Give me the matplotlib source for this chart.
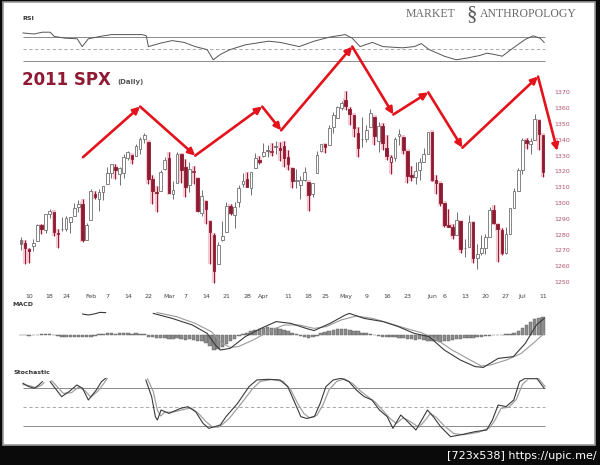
import numpy as np
import matplotlib
matplotlib.use('Agg')
import matplotlib.pyplot as plt
from matplotlib.patches import Rectangle

W, H = 600, 465

# daily SPX candles, 6 Jan 2011 .. 11 Jul 2011 (index = trading day)
opens = [
  1276.3, 1274.4, 1270.8, 1272.6, 1275.7, 1285.8, 1282.9, 1293.2, 1294.5, 1280.9, 1283.6, 1283.3, 1288.2, 1292.0, 1297.5, 1299.6, 1276.5,
  1289.1, 1305.9, 1302.8, 1307.0, 1311.9, 1318.8, 1322.5, 1318.1, 1318.7, 1328.7, 1330.4, 1329.5, 1334.4, 1340.4, 1338.9, 1315.4, 1307.1, 1307.3, 1321.6,
  1328.6, 1305.5, 1312.4, 1330.7, 1322.7, 1311.1, 1319.9, 1315.7, 1293.4, 1301.2, 1288.5, 1279.5, 1261.6, 1276.7, 1281.7, 1298.3, 1292.2, 1300.6, 1311.8, 1315.5, 1309.4, 1321.9, 1327.4,
  1329.5, 1333.6, 1332.0, 1335.9, 1334.8, 1336.2, 1329.0, 1322.0, 1314.0, 1311.1, 1314.5, 1313.4, 1306.0, 1319.1, 1333.2, 1337.1, 1336.8, 1348.4, 1353.9, 1360.1,
  1365.2, 1359.8, 1355.9, 1344.2, 1340.2, 1340.2, 1348.3, 1354.5, 1339.4, 1348.7, 1334.8, 1326.1, 1328.5, 1342.4, 1342.0, 1333.1, 1317.7, 1316.4, 1320.6, 1325.7, 1331.1,
  1345.2, 1314.6, 1312.9, 1300.3, 1286.3, 1284.6, 1279.6, 1288.3, 1271.3, 1272.2, 1287.9, 1265.5, 1268.6, 1271.5, 1278.4, 1295.5, 1286.6, 1283.0, 1268.4, 1280.2, 1296.9, 1307.6,
  1320.6, 1339.6, 1337.6, 1339.6, 1352.4, 1343.3]
highs = [
  1278.2, 1276.8, 1271.5, 1277.3, 1286.9, 1286.7, 1293.2, 1296.1, 1294.6, 1283.4, 1291.2, 1291.9, 1291.3, 1299.7, 1301.6, 1302.7, 1287.2,
  1308.9, 1307.6, 1308.6, 1311.0, 1322.9, 1324.9, 1324.5, 1322.8, 1330.8, 1333.0, 1330.4, 1337.6, 1341.5, 1344.1, 1338.9, 1317.9, 1310.9, 1320.6, 1329.4,
  1332.1, 1314.2, 1332.3, 1331.1, 1327.7, 1325.7, 1323.2, 1315.7, 1308.4, 1301.2, 1288.5, 1280.9, 1275.2, 1288.9, 1300.6, 1299.4, 1300.5, 1311.3, 1319.2, 1319.7, 1319.5, 1331.7, 1329.8,
  1337.9, 1336.7, 1338.2, 1339.4, 1338.8, 1339.5, 1333.8, 1322.0, 1321.4, 1316.8, 1322.9, 1313.4, 1312.7, 1332.7, 1337.5, 1337.6, 1349.6, 1357.5, 1361.7, 1364.6,
  1370.6, 1360.8, 1355.9, 1348.0, 1354.4, 1349.4, 1359.4, 1354.5, 1351.1, 1350.5, 1343.3, 1330.4, 1341.8, 1346.8, 1342.0, 1333.1, 1323.7, 1325.9, 1328.5, 1334.6, 1345.2,
  1345.2, 1318.0, 1312.9, 1300.3, 1296.2, 1287.0, 1294.5, 1288.3, 1277.0, 1292.5, 1287.9, 1274.1, 1279.8, 1280.4, 1297.6, 1298.6, 1286.6, 1283.9, 1284.9, 1296.8, 1309.2, 1322.0,
  1341.0, 1340.9, 1340.9, 1356.5, 1352.4, 1343.3]
lows = [
  1270.4, 1261.7, 1262.2, 1269.6, 1275.7, 1280.5, 1281.2, 1290.2, 1278.9, 1271.3, 1282.1, 1282.5, 1281.1, 1292.0, 1294.4, 1275.1, 1276.5,
  1289.1, 1302.6, 1294.8, 1301.7, 1311.9, 1316.0, 1314.9, 1311.7, 1316.1, 1326.9, 1324.6, 1329.5, 1331.0, 1338.1, 1312.3, 1299.6, 1294.3, 1307.3, 1320.6,
  1306.1, 1302.6, 1312.4, 1312.6, 1304.0, 1306.9, 1312.3, 1294.2, 1292.0, 1286.4, 1261.1, 1249.1, 1261.6, 1276.2, 1281.7, 1292.7, 1284.1, 1297.7, 1310.2, 1310.2, 1305.3, 1321.9, 1325.0,
  1328.9, 1329.1, 1330.0, 1331.1, 1326.6, 1322.9, 1321.1, 1309.5, 1309.2, 1302.4, 1313.7, 1294.7, 1304.0, 1319.1, 1332.2, 1331.5, 1336.8, 1344.3, 1353.6, 1358.7,
  1358.6, 1349.5, 1341.5, 1329.2, 1335.6, 1338.6, 1348.3, 1336.4, 1332.0, 1333.4, 1327.3, 1318.5, 1326.6, 1336.4, 1330.7, 1312.9, 1313.9, 1311.8, 1314.4, 1325.7, 1331.1,
  1313.7, 1305.6, 1297.9, 1284.7, 1284.7, 1277.4, 1279.6, 1268.2, 1265.6, 1272.2, 1261.9, 1258.1, 1267.4, 1267.6, 1278.4, 1286.8, 1262.9, 1267.2, 1267.5, 1280.2, 1296.9, 1307.6,
  1318.2, 1334.3, 1330.9, 1339.6, 1333.7, 1316.4]
closes = [
  1273.9, 1271.5, 1269.8, 1274.5, 1286.0, 1283.8, 1293.2, 1295.0, 1281.9, 1280.3, 1283.4, 1290.8, 1291.2, 1296.6, 1299.5, 1276.3, 1286.1,
  1307.6, 1304.0, 1307.1, 1310.9, 1319.1, 1324.6, 1320.9, 1321.9, 1329.2, 1332.3, 1328.0, 1336.3, 1340.4, 1343.0, 1315.4, 1307.4, 1306.1, 1319.9, 1327.2,
  1306.3, 1308.4, 1331.0, 1321.2, 1310.1, 1321.8, 1320.0, 1295.1, 1304.3, 1296.4, 1281.9, 1256.9, 1273.7, 1279.2, 1298.4, 1293.8, 1297.5, 1309.7, 1313.8, 1310.2, 1319.4, 1328.3, 1325.8,
  1332.4, 1332.9, 1332.6, 1335.5, 1333.5, 1328.2, 1324.5, 1314.2, 1314.4, 1314.5, 1319.7, 1305.1, 1312.6, 1330.4, 1337.4, 1335.3, 1347.2, 1355.7, 1360.5, 1363.6,
  1361.2, 1356.6, 1347.3, 1335.1, 1340.2, 1346.3, 1357.2, 1342.1, 1348.7, 1337.8, 1329.5, 1329.0, 1340.7, 1343.6, 1333.3, 1317.4, 1316.3, 1320.5, 1325.7, 1331.1, 1345.2,
  1314.6, 1312.9, 1300.2, 1286.2, 1284.9, 1279.6, 1289.0, 1271.0, 1271.8, 1287.9, 1265.4, 1267.6, 1271.5, 1278.4, 1295.5, 1287.1, 1283.5, 1268.5, 1280.1, 1296.7, 1307.4, 1320.6,
  1339.7, 1337.9, 1339.2, 1353.2, 1343.8, 1319.5]

tick_pos = [2, 7, 11, 17, 21, 26, 31, 36, 40, 45, 50, 55, 59, 65, 70, 74, 79, 84, 89, 94, 100, 103, 108, 113, 118, 122, 127]
tick_lab = ['10', '18', '24', 'Feb', '7', '14', '22', 'Mar', '7', '14', '21', '28', 'Apr', '11',
            '18', '25', 'May', '9', '16', '23', 'Jun', '6', '13', '20', '27', 'Jul', '11']
price_ticks = [1250, 1260, 1270, 1280, 1290, 1300, 1310, 1320, 1330, 1340, 1350, 1360, 1370]

# RSI(14)
rsi_x = [0.5, 3.2, 5.2, 7.1, 8.1, 10.8, 13.7, 14.9, 16.4, 19.3, 22, 25.4, 29.5, 30.5, 31, 34.1, 36.8, 39.7,
         42.4, 45.3, 46.8, 48.5, 50.9, 54.6, 60.2, 63.1, 67.7, 71.3, 75.2, 78.9, 80.6, 82.5, 85.5, 88.1,
         92.8, 95.7, 97.4, 99.3, 103, 105.9, 108.6, 111.5, 113.4, 115.1, 117.1, 119.8, 122.7, 124.6, 126.3, 127.3]
rsi_v = [76.7, 75, 78, 78, 71, 68, 67, 54, 67, 71, 74, 74, 74, 72, 54, 60, 64, 61,
         54, 49, 32, 41, 49, 57, 63, 61, 54, 63, 70, 74, 68, 54, 61, 54,
         52, 54, 59, 49, 38, 32, 35, 39, 43, 41, 38, 52, 66, 72, 68, 61]

# MACD panel (None = off the top of the panel)
macd_x = [15, 16.4, 17.8, 19.2, 20.6, 21.5,
          32.2, 36.8, 41.7, 45.3, 47.3, 48.5, 50.9, 54.6, 58.4, 62.1, 65.7, 69.4, 71.3, 75.2, 78.9, 79.9,
          83.5, 88.1, 91.8, 95.7, 99.3, 103, 106.9, 110.5, 112.5, 116.1, 119.8, 122.7, 125.4, 127.3]
macd_v = [10.5, 10.0, 10.5, 11.3, 11.2, None,
          10.8, 8.3, 5.0, 0.8, -5.0, -7.5, -6.7, -0.8, 3.3, 6.7, 5.8, 3.3, 2.2, 5.8, 10.0, 10.8,
          8.3, 6.7, 4.2, 0.8, -0.8, -7.5, -12.5, -15.8, -16.2, -11.7, -10.8, -4.2, 5.0, 8.3]
signal_x = [33.1, 37.8, 42.4, 46.3, 49, 50.9, 52.9, 56.5, 60.2, 64, 67.7, 71.3, 74.3, 77.9, 81.6,
            85.5, 89.1, 93.7, 97.4, 101.3, 104.9, 108.6, 112, 114.2, 118.1, 121.7, 124.6, 127.3]
signal_v = [11.2, 9.2, 5.8, 1.7, -4.2, -6.2, -5.8, -2.5, 1.7, 5.0, 5.0, 3.3, 4.2, 7.5, 9.5,
            8.3, 6.2, 3.3, 1.2, -2.5, -7.5, -11.7, -15.5, -15.0, -12.5, -9.2, -4.2, 0.8]
hist = [-0.2, -0.2, -0.3, -0.2, -0.1, 0.3, 0.4, 0.3, 0.1,
        -0.5, -0.8, -1.0, -1.1, -1.0, -0.9, -1.2, -1.0, -0.8, -0.5,
        0.3, 0.6, 0.8, 0.8, 0.7, 0.8, 0.9, 0.8, 0.7, 0.8, 0.6, 0.5,
        -0.8, -1.2, -1.5, -1.6, -1.4, -1.8, -1.9, -1.6, -2.0, -2.3, -2.2, -2.6, -3.0, -3.2,
        -4.0, -5.5, -7.5, -6.8, -6.0, -4.5, -3.2, -1.8, -0.6,
        0.6, 1.2, 1.8, 2.4, 3.0, 3.4, 3.8, 3.6, 3.4, 3.0, 2.6, 2.0, 1.2, 0.4,
        -0.6, -1.2, -1.5, -1.2, -0.6, 0.8, 1.5, 2.2, 2.6, 3.0, 3.0, 2.8, 2.6, 2.2, 1.8,
        1.2, 0.8, 0.4, 0.0, -0.5, -0.8, -1.0, -1.0, -1.2, -1.4,
        -1.6, -2.0, -2.2, -2.4, -2.2, -2.5, -2.8, -3.0, -3.2, -3.4, -3.2,
        -2.8, -2.4, -2.0, -1.8, -1.6, -1.5, -1.3, -1.0, -0.8, -0.5,
        -0.3, -0.2, -0.2, 0.0, 0.4, 0.6, 0.8, 2.0, 3.5, 5.0, 6.5, 7.8, 8.6, 9.0]

# slow stochastics (None = above the panel)
stk_x = [0.5, 1.9, 3.3, 4.3, 5.2, 6.0,
         7.1, 9.9, 11.7, 13.6, 15.0, 16.4, 18.3, 19.6, 20.6, 21.0,
         30.4, 31.8, 32.7, 33.2, 34.1, 36, 38.8, 40.6, 42.5, 44.3, 45.7, 47.2, 48.5, 49.9, 52.7, 55.5,
         57.4, 60.2, 63, 64.9, 66.7, 68.1, 69.5, 71.4, 72.8, 74.2, 76, 77.9, 79.8, 81.6, 83.5, 85.4,
         87.2, 89.1, 90.5, 92.4, 93.7, 96.1, 97.5, 98.9, 100.3, 102.1, 104.5, 106.8, 110.5, 113.3,
         114.7, 116.1, 118, 119.9, 121.3, 122.7, 125.5, 127.3]
stk_v = [88, 82.7, 80, 85, 90.6, None,
         90.6, 66.7, 74.7, 85.3, 80, 61.4, 77, 90.6, 96, None,
         93, 66.7, 34.9, 29.5, 45.5, 40, 48, 50.8, 42.8, 24.2, 16.3, 19, 21.6, 34.9, 56, 82.7,
         93.3, 94.3, 93.3, 82.7, 56, 34.9, 32, 34.9, 56, 82.7, 93.3, 96, 90.6, 77.3, 66.7, 61.4,
         45.5, 34.9, 16.3, 37.5, 29.5, 13.6, 29.5, 45.5, 34.9, 19, 3, 5.7, 11, 13.6,
         29.5, 53.4, 50.8, 61.4, 90.6, 96, 96, 80]
std_x = [0.5, 2.2, 3.6, 5.0, 5.6, 6.2,
         7.5, 10.3, 12.3, 14.0, 15.6, 17.0, 18.8, 20.2, 21.0, 21.4,
         30.8, 32.2, 33.2, 34.0, 35.0, 36.8, 39.5, 41.3, 43.2, 45.0, 46.5, 48.0, 49.3, 50.8, 53.5, 56.2,
         58.2, 61.0, 63.8, 65.6, 67.4, 68.8, 70.2, 72.0, 73.5, 75.0, 76.8, 78.7, 80.6, 82.4, 84.3, 86.2,
         88.0, 89.8, 91.3, 93.0, 94.5, 96.8, 98.2, 99.6, 101.0, 103.0, 105.3, 107.6, 111.3, 114.0,
         115.4, 116.8, 118.7, 120.5, 122.0, 123.4, 126.0, 127.5]
std_v = [86, 84, 81, 85, 89, None,
         92, 72, 73, 82, 76, 66, 76, 88, 96, None,
         95, 75, 45, 36, 42, 42, 46, 49, 40, 27, 19, 18, 24, 33, 55, 78,
         91, 94, 91, 78, 55, 40, 33, 37, 54, 78, 91, 95, 88, 77, 67, 58,
         45, 32, 24, 33, 28, 18, 28, 40, 34, 20, 8, 6, 10, 17,
         30, 48, 50, 62, 86, 95, 95, 83]

# red zig-zag arrows drawn over the price panel (trading day, price)
arrow_x = [15.1, 29.0, 42.4, 58.7, 63.3, 80.6, 90.6, 99.1, 107.4, 125.8, 130.5]
arrow_y = [1329, 1361, 1330, 1361, 1346, 1399, 1356, 1370, 1335, 1380, 1333]

XLIM = (-1.2, 129.2)
RED = '#8e1b32'
GREY = '#707070'


def add_ax(y0, y1, x0=16, x1=552):
    a = fig.add_axes([x0 / W, 1 - y1 / H, (x1 - x0) / W, (y1 - y0) / H])
    a.set_xlim(*XLIM)
    a.patch.set_visible(False)
    for s in a.spines.values():
        s.set_visible(False)
    a.set_xticks([])
    a.set_yticks([])
    return a


fig = plt.figure(figsize=(W / 100, H / 100), dpi=100, facecolor='#0a0a0a')
fig.add_artist(Rectangle((3 / W, 1 - 445 / H), 592 / W, 443 / H, transform=fig.transFigure,
                         facecolor='white', edgecolor='#9a9a9a', lw=1.2, zorder=-5))

# ---- RSI ----
ax_rsi = add_ax(28, 66)
ax_rsi.set_ylim(21.67, 85)
ax_rsi.hlines([70, 30], 0.5, 127.5, color='#8a8a8a', lw=0.7)
ax_rsi.hlines(50, 0.5, 127.5, color='#9a9a9a', lw=0.6, linestyles=(0, (4, 3)))
ax_rsi.plot(rsi_x, rsi_v, color='#555555', lw=0.7)
fig.text(22 / W, 1 - 19 / H, 'RSI', fontsize=4.5, fontweight='bold', color='#333333', va='center')

# ---- price ----
ax = add_ax(86, 290)
ax.set_ylim(1244.94, 1374.05)
for i in range(len(closes)):
    o, h, l, c = opens[i], highs[i], lows[i], closes[i]
    col = RED if (i > 0 and c < closes[i - 1]) else GREY
    if col == RED:
        ax.vlines(i, l, h, color='#f4c9d2', lw=3.0, zorder=1)
        ax.add_patch(Rectangle((i - 0.55, min(o, c) - 1), 1.1, abs(c - o) + 2,
                               facecolor='#f4c9d2', edgecolor='none', zorder=1))
    ax.vlines(i, l, h, color=col, lw=0.7, zorder=2)
    face = 'white' if c >= o else col
    ax.add_patch(Rectangle((i - 0.32, min(o, c)), 0.64, max(abs(c - o), 0.3),
                           facecolor=face, edgecolor=col, lw=0.6, zorder=3))

ax.yaxis.tick_right()
ax.set_yticks(price_ticks)
ax.set_yticklabels([str(p) for p in price_ticks])
ax.tick_params(axis='y', length=0, pad=2, labelsize=4.5, labelcolor='#b0506a')
ax.set_xticks(tick_pos)
ax.set_xticklabels(tick_lab)
ax.tick_params(axis='x', length=0, pad=3, labelsize=4.5, labelcolor='#444444')

for k in range(len(arrow_x) - 1):
    ax.annotate('', xy=(arrow_x[k + 1], arrow_y[k + 1]), xytext=(arrow_x[k], arrow_y[k]),
                arrowprops=dict(arrowstyle='-|>', color='#e3121b', lw=1.9, mutation_scale=10,
                                shrinkA=0, shrinkB=0),
                annotation_clip=False, zorder=10)

fig.text(22 / W, 1 - 80 / H, '2011 SPX', fontsize=12, fontweight='bold', color='#8e1b32', va='center')
fig.text(117 / W, 1 - 82 / H, '(Daily)', fontsize=5, fontweight='bold', color='#555555', va='center')

# watermark
fig.text(406 / W, 1 - 14 / H, 'MARKET', fontsize=8.5, family='Liberation Serif', color='#6a6a6a', va='center')
fig.text(472 / W, 1 - 15 / H, '\u00a7', fontsize=15, family='Liberation Serif', color='#555555', va='center', ha='center')
fig.text(480 / W, 1 - 14 / H, 'ANTHROPOLOGY', fontsize=8.5, family='Liberation Serif', color='#6a6a6a', va='center')

# ---- MACD ----
ax_m = add_ax(309, 370)
ax_m.set_ylim(-17.5, 13)
ax_m.bar(range(len(hist)), hist, width=0.85, color='#8c8c8c', edgecolor='#5a5a5a', lw=0.3)
ax_m.plot(signal_x, signal_v, color='#9a9a9a', lw=0.8)
ax_m.plot(macd_x, np.array(macd_v, dtype=float), color='#3a3a3a', lw=0.8)
fig.text(12 / W, 1 - 305 / H, 'MACD', fontsize=4.5, fontweight='bold', color='#333333', va='center')

# ---- Stochastics ----
ax_s = add_ax(378, 443)
ax_s.set_ylim(-7.07, 96.4)
ax_s.hlines([80, 20], 0.5, 127.5, color='#8a8a8a', lw=0.7)
ax_s.hlines(50, 0.5, 127.5, color='#9a9a9a', lw=0.6, linestyles=(0, (4, 3)))
ax_s.plot(std_x, np.array(std_v, dtype=float), color='#a0a0a0', lw=0.9)
ax_s.plot(stk_x, np.array(stk_v, dtype=float), color='#3a3a3a', lw=0.8)
fig.text(13 / W, 1 - 373 / H, 'Stochastic', fontsize=4.5, fontweight='bold', color='#333333', va='center')

fig.text(597 / W, 1 - 456 / H, '[723x538] https://upic.me/', fontsize=8, color='white',
         ha='right', va='center')

fig.savefig('out.png', dpi=100, facecolor=fig.get_facecolor())
